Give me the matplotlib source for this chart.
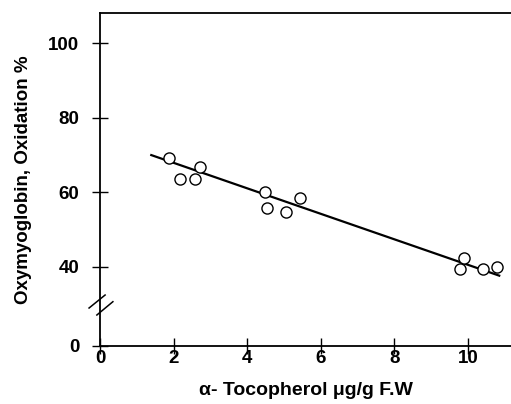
import matplotlib.pyplot as plt
import numpy as np

# measured points (x: alpha-tocopherol ug/g, y: oxymyoglobin oxidation %)
toco = [1.88, 2.17, 2.59, 2.72, 4.47, 4.54, 5.04, 5.43, 9.89, 9.78, 10.40, 10.78]
oxid = [69.1, 63.6, 63.6, 66.7, 60.2, 55.7, 54.8, 58.4, 42.3, 39.5, 39.5, 39.8]

# regression line end points
fit_x = [1.39, 10.85]
fit_y = [70.0, 37.6]

xticks = [0, 2, 4, 6, 8, 10]
yticks = [40, 60, 80, 100]
ZERO_POS = 18.7  # where "0" sits on the broken axis

plt.rcParams['font.family'] = ['Liberation Sans', 'DejaVu Sans']

fig = plt.figure(figsize=(5.11, 4.04), dpi=100)
ax = fig.add_axes([0.196, 0.1436, 0.804, 0.8244])

ax.plot(fit_x, fit_y, color='black', lw=1.6, zorder=2)
ax.plot(toco, oxid, 'o', ms=8, mfc='white', mec='black', mew=1.0, zorder=3)

ax.set_xlim(0, 11.17)
ax.set_ylim(ZERO_POS, 108.2)
ax.set_xticks(xticks)
ax.set_xticklabels([str(t) for t in xticks], fontweight='bold', fontsize=13.5)
ax.set_yticks([ZERO_POS] + yticks)
ax.set_yticklabels(['0'] + [str(t) for t in yticks], fontweight='bold', fontsize=13.5)
ax.tick_params(direction='inout', length=12, width=1.0)
ax.tick_params(axis='y', pad=9)
ax.tick_params(axis='x', pad=-3)

for s in ['left', 'bottom', 'top']:
    ax.spines[s].set_linewidth(1.3)
ax.spines['right'].set_visible(False)

# axis break marks
for (x0, x1, y0, y1) in [(-0.027, 0.012, 0.114, 0.153), (-0.008, 0.031, 0.093, 0.133)]:
    ax.plot([x0, x1], [y0, y1], color='black', lw=1.1, transform=ax.transAxes, clip_on=False)

ax.set_ylabel('Oxymyoglobin, Oxidation %', fontweight='bold', fontsize=13.5, labelpad=12)
ax.set_xlabel('\u03b1- Tocopherol \u03bcg/g F.W', fontweight='bold', fontsize=14, labelpad=11)

fig.savefig('out.png', dpi=100)
